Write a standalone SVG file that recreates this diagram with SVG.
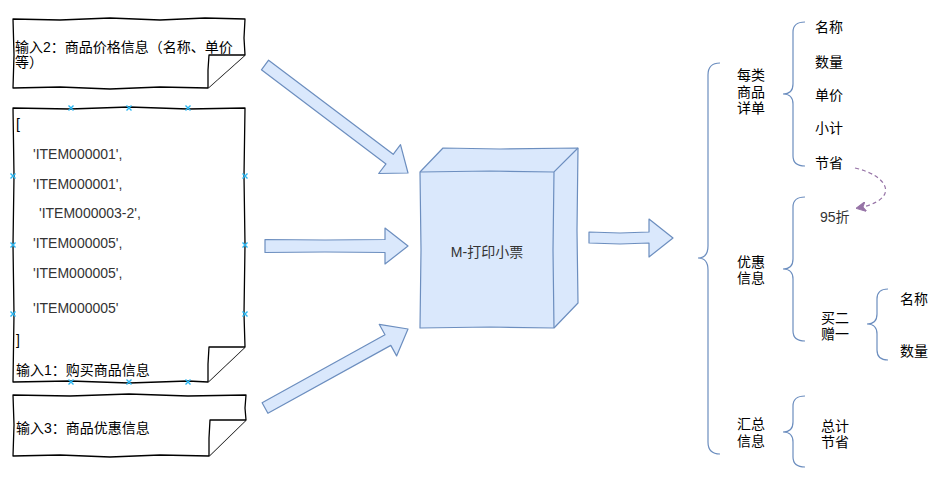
<svg xmlns="http://www.w3.org/2000/svg" xmlns:xlink="http://www.w3.org/1999/xlink" width="948" height="478" viewBox="0 0 948 478">
<defs>
<style>
.note{fill:#fff;stroke:#000;stroke-width:1.3;stroke-linejoin:round}
.blk{fill:#dae8fc;stroke:#6c8ebf;stroke-width:1.2;stroke-linejoin:round}
.br{fill:none;stroke:#6c8ebf;stroke-width:1.2}
.t{font-family:"Liberation Sans","Noto Sans CJK SC",sans-serif;font-size:14px;fill:#000}
.g{fill:#333}
.mk{stroke:#29b6f2;stroke-width:1.4;fill:none}
</style>
<path id="x" d="M-2.5,-2.5 L2.5,2.5 M-2.5,2.5 L2.5,-2.5"/>
<marker id="ah" viewBox="0 0 10 10" refX="8" refY="5" markerWidth="10" markerHeight="10" markerUnits="userSpaceOnUse" orient="auto">
<path d="M0,0 L10,5 L0,10 L3,5 Z" fill="#9673a6" stroke="#9673a6"/>
</marker>
</defs>
<rect width="948" height="478" fill="#fff"/>

<g id="note2">
<path class="note" d="M13,19 L60,20 L110,18 L160,20 L205,18 L245,19 L244,38 L245,55 L208,88 L160,87 L110,89 L60,87 L13,88 L14,55 Z"/>
<path class="note" d="M208,88 L208,70 L209,55 L245,55"/>
<text class="t" x="15" y="52">输入2：商品价格信息（名称、单价</text>
<text class="t" x="15" y="67">等）</text>
</g>

<g id="note1">
<path class="note" d="M13,108 L70,109 L129,107 L188,109 L245,108 L244,176 L245,245 L244,314 L245,347 L208,382 L188,381 L129,383 L70,381 L13,382 L14,314 L13,245 L14,176 Z"/>
<path class="note" d="M208,382 L208,364 L209,347 L245,347"/>
<text class="t" x="16" y="129">[</text>
<text class="t g" x="33" y="159">'ITEM000001',</text>
<text class="t g" x="33" y="189">'ITEM000001',</text>
<text class="t g" x="39" y="218">'ITEM000003-2',</text>
<text class="t g" x="33" y="248">'ITEM000005',</text>
<text class="t g" x="33" y="278">'ITEM000005',</text>
<text class="t g" x="33" y="313">'ITEM000005'</text>
<text class="t" x="16" y="345">]</text>
<text class="t" x="16" y="375">输入1：购买商品信息</text>
<g class="mk">
<use xlink:href="#x" x="71" y="108"/><use xlink:href="#x" x="129" y="108"/><use xlink:href="#x" x="188" y="108"/>
<use xlink:href="#x" x="71" y="382"/><use xlink:href="#x" x="129" y="382"/><use xlink:href="#x" x="188" y="382"/>
<use xlink:href="#x" x="13" y="176"/><use xlink:href="#x" x="13" y="245"/><use xlink:href="#x" x="13" y="314"/>
<use xlink:href="#x" x="245" y="176"/><use xlink:href="#x" x="245" y="245"/><use xlink:href="#x" x="245" y="314"/>
</g>
</g>

<g id="note3">
<path class="note" d="M13,395 L70,396 L129,394 L188,396 L246,395 L245,408 L246,420 L209,456 L160,455 L110,457 L60,455 L13,456 L14,425 Z"/>
<path class="note" d="M209,456 L209,438 L210,420 L246,420"/>
<text class="t" x="16" y="433">输入3：商品优惠信息</text>
</g>

<g id="cube">
<path class="blk" d="M420,172 L443,148 L500,149 L578,148 L577,230 L578,303 L554,328 L490,327 L420,328 L421,250 Z"/>
<path class="br" d="M420,172 L490,171 L554,172 L578,148 M554,172 L553,250 L554,328"/>
<text class="t g" x="487" y="257" text-anchor="middle">M-打印小票</text>
</g>

<g id="connectors">
<polygon class="blk" points="261.4,69.8 386,163.9 378.7,173.5 408,173 400.5,144.7 393.2,154.3 268.6,60.2"/>
<polygon class="blk" points="265,239.5 325,240 385,239.5 385,228 408,246 385,264 385,252.5 325,252 265,252.5"/>
<polygon class="blk" points="267.9,413.3 390.8,345.4 396.6,355.9 408,329 379.2,324.3 385,334.8 262.1,402.8"/>
<polygon class="blk" points="589,232 620,233 649,232 649,219 673,238 649,257 649,243 620,244 589,243"/>
<path d="M855,168 C890,176 900,200 858,208" fill="none" stroke="#9673a6" stroke-width="1.2" stroke-dasharray="4 3" marker-end="url(#ah)"/>
</g>

<g id="brace-main">
<path class="br" d="M720,63 Q708,63 708,75 L708,246 Q708,258 698,258 Q708,258 708,270 L708,442 Q708,454 720,454"/>
<text class="t" x="737" y="80">每类</text>
<text class="t" x="737" y="97">商品</text>
<text class="t" x="737" y="113">详单</text>
<text class="t" x="737" y="267">优惠</text>
<text class="t" x="737" y="283">信息</text>
<text class="t" x="737" y="429">汇总</text>
<text class="t" x="737" y="446">信息</text>
</g>

<g id="brace-detail">
<path class="br" d="M805,22 Q793,22 793,32 L793,84 Q793,94 783,94 Q793,94 793,104 L793,156 Q793,166 805,166"/>
<text class="t" x="815" y="32">名称</text>
<text class="t" x="815" y="67">数量</text>
<text class="t" x="815" y="100">单价</text>
<text class="t" x="815" y="133">小计</text>
<text class="t" x="815" y="168">节省</text>
</g>

<g id="brace-discount">
<path class="br" d="M805,197 Q793,197 793,207 L793,259 Q793,269 783,269 Q793,269 793,279 L793,331 Q793,341 805,341"/>
<text class="t g" x="820" y="222">95折</text>
<text class="t" x="821" y="323">买二</text>
<text class="t" x="821" y="339">赠一</text>
</g>

<g id="brace-gift">
<path class="br" d="M888,289 Q877,289 877,299 L877,314 Q877,324 867,324 Q877,324 877,334 L877,350 Q877,360 888,360"/>
<text class="t" x="900" y="304">名称</text>
<text class="t" x="900" y="356">数量</text>
</g>

<g id="brace-total">
<path class="br" d="M805,396 Q793,396 793,406 L793,422 Q793,432 783,432 Q793,432 793,442 L793,457 Q793,467 805,467"/>
<text class="t" x="821" y="431">总计</text>
<text class="t" x="821" y="447">节省</text>
</g>
</svg>
